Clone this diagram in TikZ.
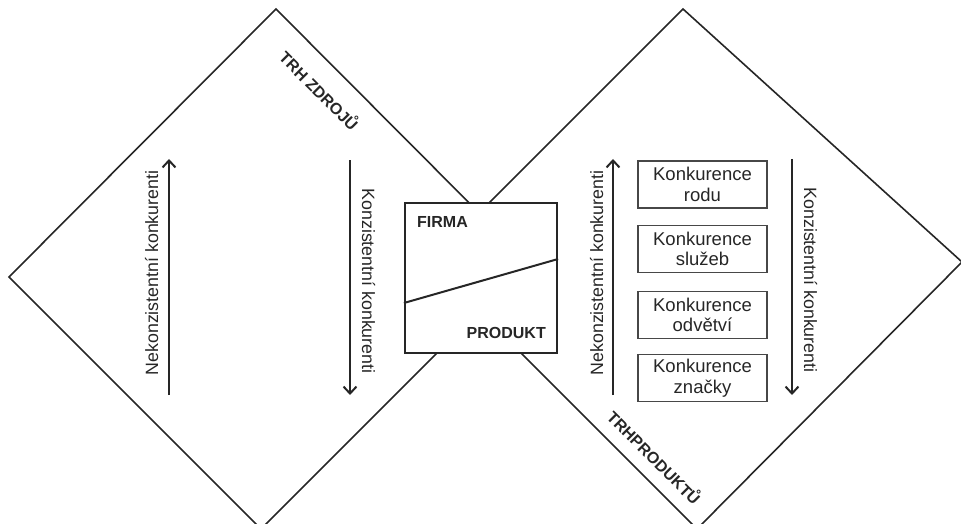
\documentclass[tikz,border=0pt]{standalone}
\usepackage{fontspec}
\setmainfont{Liberation Sans}
\usetikzlibrary{arrows.meta}
\definecolor{ink}{HTML}{262626}
\begin{document}
\begin{tikzpicture}[x=1pt,y=-1pt,
  edge/.style={draw=ink,line width=1.6pt,line join=miter},
  flow/.style={draw=ink,line width=2pt,-{Straight Barb[length=7pt,width=13pt,line width=2pt]}},
  lab/.style={text=ink,font=\fontsize{17.8}{20}\selectfont,inner sep=0pt,anchor=base},
  mkt/.style={text=ink,font=\bfseries\fontsize{16}{18}\selectfont,inner sep=0pt,rotate=-45},
  kbox/.style={draw=ink!85,line width=1.2pt,minimum width=129pt,minimum height=47pt,align=center,inner sep=0pt,text=ink,font=\fontsize{18.5}{20.5}\selectfont},
  firmabox/.style={draw=ink,fill=white,line width=2.2pt,minimum width=152pt,minimum height=150pt,inner sep=0pt},
  tag/.style={text=ink,font=\bfseries\fontsize{16}{18}\selectfont,inner sep=0pt},
]
\useasboundingbox (0,0) rectangle (961,524);
\clip (0,0) rectangle (961,524);

% market diamonds
\draw[edge] (276,9) -- (9,277) -- (261,529) -- (528,262) -- cycle;
\draw[edge] (683,9) -- (962,262) -- (697,529) -- (430,262) -- cycle;

% firm box
\node[firmabox] (firma) at (481,278) {};
\draw[ink,line width=2pt] (firma.west |- 0,303) -- (firma.east |- 0,259);
\node[tag,anchor=west] (tfirma) at (417,222) {FIRMA};
\node[tag,anchor=east] (tprodukt) at (546,333) {PRODUKT};

% market labels
\node[mkt] (zdroje) at (320,90) {TRH ZDROJŮ};
\node[mkt] (produkty) at (655,457) {TRHPRODUKTŮ};

% left arrows
\coordinate (l1a) at (169,395); \coordinate (l1b) at (169,159);
\coordinate (l2a) at (350,160); \coordinate (l2b) at (350,395);
\draw[flow] (l1a) -- (l1b);
\draw[flow] (l2a) -- (l2b);
\node[lab,rotate=90] (lnek) at (158,273) {Nekonzistentní konkurenti};
\node[lab,rotate=-90] (lkon) at (362,281) {Konzistentní konkurenti};

% right arrows
\coordinate (r1a) at (613,395); \coordinate (r1b) at (613,159);
\coordinate (r2a) at (792,159); \coordinate (r2b) at (792,395);
\draw[flow] (r1a) -- (r1b);
\draw[flow] (r2a) -- (r2b);
\node[lab,rotate=90] (rnek) at (603,273) {Nekonzistentní konkurenti};
\node[lab,rotate=-90] (rkon) at (804,280) {Konzistentní konkurenti};

% competition boxes
\node[kbox] (k1) at (702.5,184.5) {Konkurence\\rodu};
\node[kbox] (k2) at (702.5,249) {Konkurence\\služeb};
\node[kbox] (k3) at (702.5,315) {Konkurence\\odvětví};
\node[kbox] (k4) at (702.5,378) {Konkurence\\značky};
\end{tikzpicture}
\end{document}
